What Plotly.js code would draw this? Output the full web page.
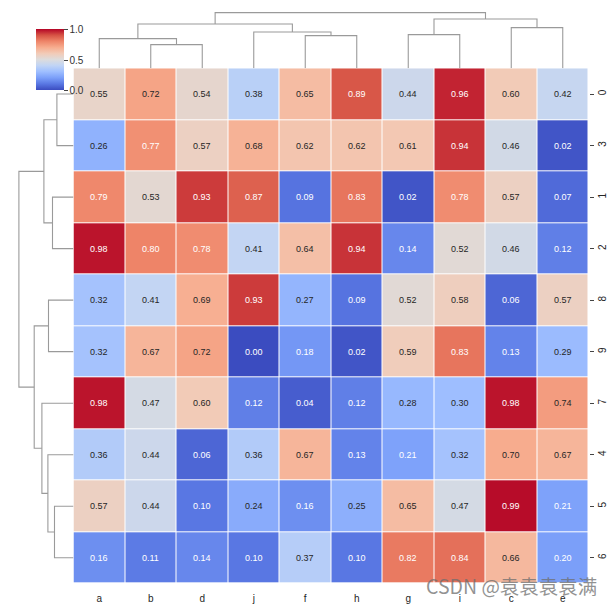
<!DOCTYPE html>
<html>
<head>
<meta charset="utf-8">
<script src="https://cdn.plot.ly/plotly-3.0.1.min.js"></script>
<style>html,body{margin:0;padding:0;background:#fff;}#chart{width:615px;height:607px;}</style>
</head>
<body>
<div id="chart"></div>
<script>
// ---- data (display order after clustering) ----
const colLabels = ['a','b','d','j','f','h','g','i','c','e'];
const rowLabels = ['0','3','1','2','8','9','7','4','5','6'];
const row0 = [0.55,0.72,0.54,0.38,0.65,0.89,0.44,0.96,0.60,0.42];
const row3 = [0.26,0.77,0.57,0.68,0.62,0.62,0.61,0.94,0.46,0.02];
const row1 = [0.79,0.53,0.93,0.87,0.09,0.83,0.02,0.78,0.57,0.07];
const row2 = [0.98,0.80,0.78,0.41,0.64,0.94,0.14,0.52,0.46,0.12];
const row8 = [0.32,0.41,0.69,0.93,0.27,0.09,0.52,0.58,0.06,0.57];
const row9 = [0.32,0.67,0.72,0.00,0.18,0.02,0.59,0.83,0.13,0.29];
const row7 = [0.98,0.47,0.60,0.12,0.04,0.12,0.28,0.30,0.98,0.74];
const row4 = [0.36,0.44,0.06,0.36,0.67,0.13,0.21,0.32,0.70,0.67];
const row5 = [0.57,0.44,0.10,0.24,0.16,0.25,0.65,0.47,0.99,0.21];
const row6 = [0.16,0.11,0.14,0.10,0.37,0.10,0.82,0.84,0.66,0.20];
// linkage: [child1, child2, height]; leaves are display positions 0..9, new nodes 10..18
const colLinkage = [[1,2,23.7],[0,10,29.7],[4,5,32.7],[6,7,33.7],[3,12,36.3],[8,9,40.7],[11,14,44.3],[13,15,49.3],[16,17,55.7]];
const rowLinkage = [[0,1,16.6],[8,9,19.0],[2,3,21.0],[4,5,25.0],[7,11,25.6],[10,12,29.6],[6,14,31.6],[13,16,39.3],[15,17,54.6]];
const cbTickVals = [0, 0.5, 1];
const cbTickText = ['0.0','0.5','1.0'];

const z = [row0,row3,row1,row2,row8,row9,row7,row4,row5,row6];

// ---- layout geometry ----
const W = 615, H = 607;
const hmL = 73.5, hmR = 588.5, hmT = 68.3, hmB = 583.5;
const px2x = p => p / W, px2y = p => 1 - p / H;
const xDom = [px2x(hmL), px2x(hmR)];
const yDom = [px2y(hmB), px2y(hmT)];
const dendSpan = 60;

const coolwarm = [
  [0.0,'#3b4cc0'],[0.1,'#5977e3'],[0.2,'#7b9ff9'],[0.3,'#9ebeff'],[0.4,'#c0d4f5'],
  [0.5,'#dddcdc'],[0.6,'#f2cbb7'],[0.7,'#f7ac8e'],[0.8,'#ee8468'],[0.9,'#d65244'],[1.0,'#b40426']
];
function hex2rgb(h){return [parseInt(h.slice(1,3),16),parseInt(h.slice(3,5),16),parseInt(h.slice(5,7),16)];}
function cmap(v){
  for(let i=0;i<coolwarm.length-1;i++){
    const [a,ca]=coolwarm[i],[b,cb]=coolwarm[i+1];
    if(v<=b){const t=(v-a)/(b-a);const A=hex2rgb(ca),B=hex2rgb(cb);return A.map((x,k)=>x+(B[k]-x)*t);}
  }
  return hex2rgb(coolwarm[coolwarm.length-1][1]);
}
function lum(rgb){
  const c=rgb.map(x=>{x/=255;return x<=0.03928?x/12.92:Math.pow((x+0.055)/1.055,2.4);});
  return 0.2126*c[0]+0.7152*c[1]+0.0722*c[2];
}

function dendroSegments(linkage, n){
  const pos=[], hgt=[];
  for(let i=0;i<n;i++){pos.push(i);hgt.push(0);}
  const P=[], Q=[];
  linkage.forEach(([c1,c2,h])=>{
    P.push(pos[c1],pos[c1],pos[c2],pos[c2],null);
    Q.push(hgt[c1],h,h,hgt[c2],null);
    pos.push((pos[c1]+pos[c2])/2); hgt.push(h);
  });
  return {pos:P, h:Q};
}

const colD = dendroSegments(colLinkage, colLabels.length);
const rowD = dendroSegments(rowLinkage, rowLabels.length);
const lineStyle = {color:'#9a9a9a', width:1.1};

const traces = [
  {
    type:'heatmap', z:z, x:colLabels, y:rowLabels, xaxis:'x', yaxis:'y',
    zmin:0, zmax:1, colorscale:coolwarm, xgap:1, ygap:1, hoverinfo:'skip',
    colorbar:{
      x:px2x(36), xanchor:'left', y:px2y(29.5), yanchor:'top',
      len:61, lenmode:'pixels', thickness:28, thicknessmode:'pixels',
      outlinewidth:0, xpad:0, ypad:0,
      tickvals:cbTickVals, ticktext:cbTickText, ticks:'outside', ticklen:4,
      tickcolor:'#444', tickwidth:1,
      tickfont:{family:'Liberation Sans, Arial, sans-serif', size:10, color:'#333'}
    }
  },
  {type:'scatter', mode:'lines', x:colD.pos, y:colD.h, xaxis:'x2', yaxis:'y2', line:lineStyle, hoverinfo:'skip', showlegend:false},
  {type:'scatter', mode:'lines', x:rowD.h, y:rowD.pos, xaxis:'x3', yaxis:'y3', line:lineStyle, hoverinfo:'skip', showlegend:false}
];

const annotations = [];
z.forEach((row,i)=>row.forEach((v,j)=>{
  const white = lum(cmap(v)) <= 0.408;
  annotations.push({
    x:j, y:i, xref:'x', yref:'y', text:v.toFixed(2), showarrow:false,
    font:{family:'Liberation Sans, Arial, sans-serif', size:9, color: white ? '#ffffff' : '#262626'}
  });
}));
annotations.push({
  x:px2x(599), y:px2y(585), xref:'paper', yref:'paper', xanchor:'right', yanchor:'middle',
  text:'CSDN @袁袁袁袁满', showarrow:false,
  font:{family:'Noto Sans CJK SC, sans-serif', size:19.5, color:'rgba(110,110,110,0.75)'}
});

const tickFont = {family:'Liberation Sans, Arial, sans-serif', size:10, color:'#262626'};
const layout = {
  width:W, height:H, margin:{l:0,r:0,t:0,b:0},
  paper_bgcolor:'#ffffff', plot_bgcolor:'#ffffff', showlegend:false,
  xaxis:{domain:xDom, type:'category', anchor:'y', side:'bottom', showgrid:false, zeroline:false, showline:false,
         ticks:'outside', ticklen:5, tickcolor:'rgba(0,0,0,0)', tickfont:tickFont},
  yaxis:{domain:yDom, type:'category', anchor:'x', side:'right', autorange:'reversed', showgrid:false, zeroline:false, showline:false,
         ticks:'outside', ticklen:4, tickcolor:'#444', tickangle:-90, tickfont:tickFont},
  xaxis2:{domain:xDom, anchor:'y2', range:[-0.5, colLabels.length-0.5], visible:false, fixedrange:true},
  yaxis2:{domain:[yDom[1], px2y(hmT-dendSpan)], anchor:'x2', range:[0,dendSpan], visible:false},
  xaxis3:{domain:[px2x(hmL-dendSpan), xDom[0]], anchor:'y3', range:[dendSpan,0], visible:false},
  yaxis3:{domain:yDom, anchor:'x3', range:[rowLabels.length-0.5,-0.5], visible:false},
  annotations:annotations
};

Plotly.newPlot('chart', traces, layout, {displayModeBar:false, staticPlot:true});
</script>
</body>
</html>
